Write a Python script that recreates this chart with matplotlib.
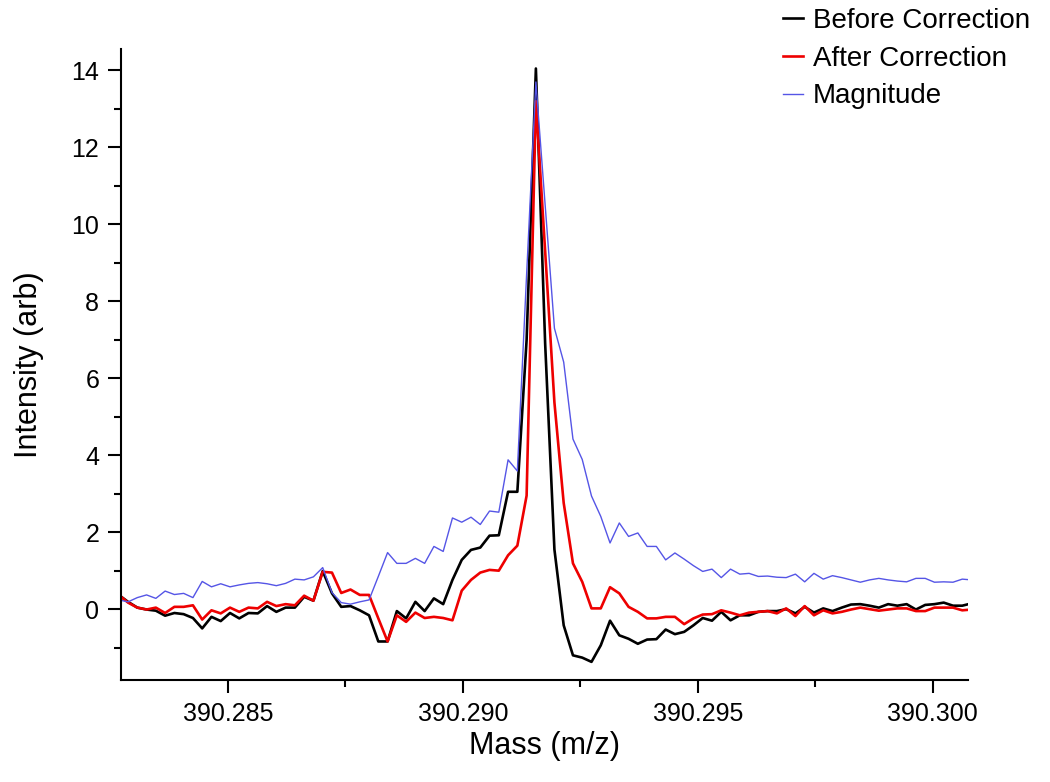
import numpy as np
import matplotlib
matplotlib.use("Agg")
from matplotlib import pyplot as plt
from matplotlib.ticker import MultipleLocator, FormatStrFormatter

plt.rcParams['font.family'] = ['Liberation Sans', 'DejaVu Sans']

# mass axis: 93 uniformly sampled points (first/last ones fall just outside the view)
mass_start = 390.282678
mass_stop = 390.300823
n_pts = 93

before = [0.37, 0.19, 0.04, -0.01, -0.04, -0.17, -0.10, -0.13, -0.23, -0.50,
          -0.20, -0.31, -0.10, -0.24, -0.10, -0.11, 0.08, -0.07, 0.04, 0.04,
          0.32, 0.22, 0.99, 0.41, 0.06, 0.08, -0.03, -0.16, -0.84, -0.84,
          -0.05, -0.24, 0.19, -0.05, 0.28, 0.13, 0.76, 1.28, 1.54, 1.60,
          1.91, 1.92, 3.05, 3.05, 7.0, 14.05, 6.9, 1.55, -0.42, -1.20,
          -1.26, -1.37, -0.94, -0.30, -0.68, -0.77, -0.90, -0.79, -0.78, -0.53,
          -0.65, -0.59, -0.42, -0.23, -0.30, -0.07, -0.29, -0.16, -0.16, -0.07,
          -0.05, -0.05, 0.00, -0.11, 0.06, -0.09, 0.02, -0.05, 0.04, 0.12,
          0.13, 0.09, 0.04, 0.13, 0.09, 0.13, -0.01, 0.11, 0.13, 0.17,
          0.09, 0.09, 0.15]

after = [0.37, 0.17, 0.04, -0.01, 0.04, -0.10, 0.06, 0.06, 0.10, -0.27,
         -0.03, -0.11, 0.04, -0.07, 0.04, 0.02, 0.19, 0.08, 0.13, 0.10,
         0.35, 0.22, 0.97, 0.95, 0.42, 0.51, 0.37, 0.37, -0.24, -0.84,
         -0.16, -0.33, -0.09, -0.23, -0.20, -0.23, -0.29, 0.48, 0.76, 0.95,
         1.02, 1.00, 1.40, 1.65, 2.95, 13.2, 9.3, 5.37, 2.76, 1.19,
         0.71, 0.02, 0.02, 0.57, 0.41, 0.06, -0.07, -0.24, -0.24, -0.20,
         -0.20, -0.39, -0.24, -0.14, -0.13, -0.03, -0.09, -0.16, -0.09, -0.07,
         -0.05, -0.11, 0.02, -0.18, 0.08, -0.16, -0.03, -0.11, -0.07, -0.01,
         0.04, 0.00, -0.04, -0.01, 0.02, 0.02, -0.05, -0.05, 0.04, 0.04,
         0.04, -0.03, -0.01]

magnitude = [0.24, 0.19, 0.30, 0.37, 0.28, 0.47, 0.38, 0.41, 0.30, 0.72,
             0.58, 0.66, 0.58, 0.63, 0.67, 0.69, 0.66, 0.61, 0.67, 0.78,
             0.76, 0.84, 1.08, 0.43, 0.17, 0.13, 0.19, 0.24, 0.85, 1.47,
             1.19, 1.19, 1.32, 1.19, 1.63, 1.50, 2.37, 2.26, 2.39, 2.20,
             2.55, 2.52, 3.88, 3.59, 8.7, 13.7, 10.5, 7.3, 6.42, 4.42,
             3.89, 2.94, 2.41, 1.72, 2.24, 1.89, 1.98, 1.63, 1.63, 1.28,
             1.46, 1.30, 1.13, 0.98, 1.04, 0.82, 1.04, 0.91, 0.93, 0.85,
             0.86, 0.83, 0.82, 0.91, 0.71, 0.93, 0.78, 0.87, 0.82, 0.76,
             0.70, 0.76, 0.80, 0.76, 0.73, 0.71, 0.80, 0.80, 0.70, 0.71,
             0.70, 0.78, 0.76]

mass = np.linspace(mass_start, mass_stop, n_pts)

fig = plt.figure(figsize=(10.5, 7.82), dpi=100)
ax = fig.add_axes([0.115, 0.130, 0.807, 0.807])

ax.plot(mass, before, color='black', lw=1.9, label='Before Correction')
ax.plot(mass, after, color='#ee0000', lw=1.9, label='After Correction')
ax.plot(mass, magnitude, color='#5555e6', lw=1.0, label='Magnitude')

ax.set_xlim(390.28272, 390.30075)
ax.set_ylim(-1.85, 14.55)

ax.xaxis.set_major_locator(MultipleLocator(0.005))
ax.xaxis.set_minor_locator(MultipleLocator(0.0025))
ax.xaxis.set_major_formatter(FormatStrFormatter('%.3f'))
ax.yaxis.set_major_locator(MultipleLocator(2))
ax.yaxis.set_minor_locator(MultipleLocator(1))

for side in ['top', 'right']:
    ax.spines[side].set_visible(False)
for side in ['left', 'bottom']:
    ax.spines[side].set_linewidth(1.5)

ax.tick_params(which='major', direction='out', length=9.5, width=1.5,
               labelsize=18, pad=6)
ax.tick_params(which='minor', direction='out', length=5, width=1.5)

ax.set_xlabel('Mass (m/z)', fontsize=22, labelpad=4)
ax.set_ylabel('Intensity (arb)', fontsize=22, labelpad=20)

fig.legend(loc='upper right', bbox_to_anchor=(0.997, 1.011), frameon=False,
           fontsize=20, handlelength=0.72, handletextpad=0.36,
           labelspacing=0.42, borderpad=0.1)

fig.savefig('out.png', dpi=100)
